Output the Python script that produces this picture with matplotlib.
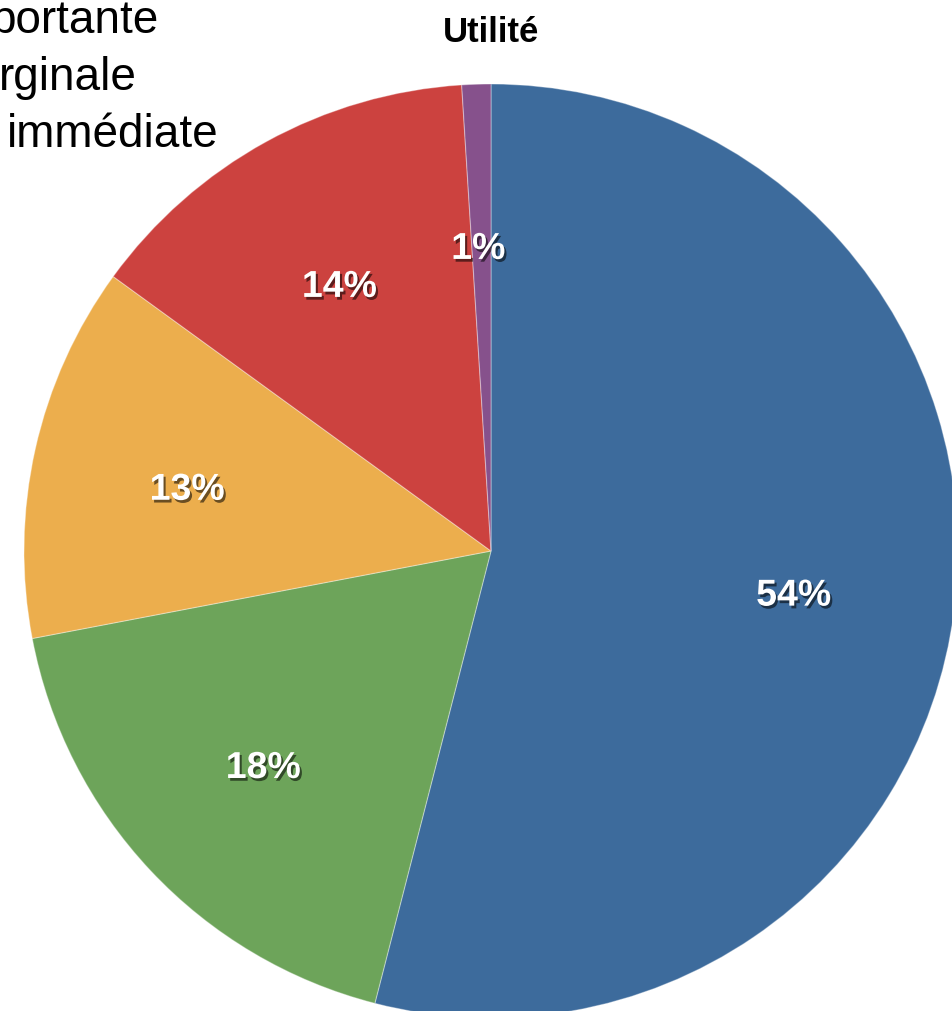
import matplotlib
matplotlib.use('Agg')
import matplotlib.pyplot as plt
import matplotlib.patheffects as pe

# parts of the pie, clockwise from the top
labels = ['A', 'B', 'C', 'D', 'E']
values = [54, 18, 13, 14, 1]
colors = ['#3d6b9c', '#6da45a', '#ecae4d', '#cc423f', '#86518c']

title = 'Utilité'
legend_lines = ['portante', 'rginale', 'immédiate']

W, H = 952, 1011
fig = plt.figure(figsize=(W / 100, H / 100), dpi=100)
ax = fig.add_axes([0, 0, 1, 1])

# pie in pixel coordinates so the circle runs past the edges
wedges, texts, autotexts = ax.pie(
    values, colors=colors, startangle=90, counterclock=False,
    center=(491, H - 551), radius=467, frame=False,
    autopct='%d%%', pctdistance=0.66,
    wedgeprops=dict(edgecolor=(1, 1, 1, 0.35), linewidth=0.8),
)
shadow = [pe.withSimplePatchShadow(offset=(1.5, -2), shadow_rgbFace='black', alpha=0.55)]
for t in autotexts:
    x, y = t.get_position()
    t.set_position((x - 3, y - 6))
    t.set_color('white')
    t.set_fontfamily('Liberation Sans')
    t.set_fontweight('bold')
    t.set_fontsize(27)
    t.set_path_effects(shadow)

ax.set_xlim(0, W)
ax.set_ylim(0, H)
ax.set_aspect('equal')
ax.axis('off')

fig.text(491 / W, 1 - 33 / H, title, ha='center', va='center',
         fontsize=25, fontweight='bold', family='Liberation Sans')

# legend text along the left edge
ends = [158, 137, 218]
baselines = [33, 90, 147]
for line, x, y in zip(legend_lines, ends, baselines):
    fig.text(x / W, 1 - y / H, line, ha='right', va='baseline',
             fontsize=33, family='Liberation Sans', color='black')

fig.savefig('out.png', dpi=100)
